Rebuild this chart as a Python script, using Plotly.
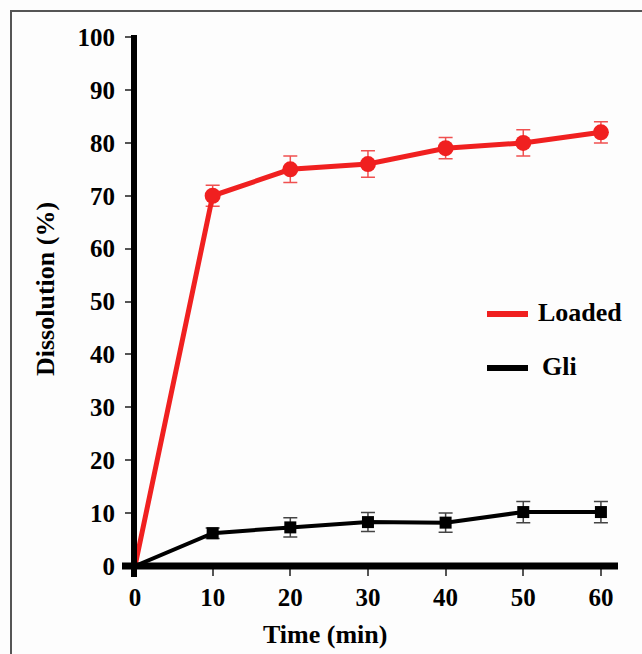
import plotly.graph_objects as go

time_min = [0, 10, 20, 30, 40, 50, 60]
loaded = [0, 70, 75, 76, 79, 80, 82]
loaded_err = [0, 2, 2.5, 2.5, 2, 2.5, 2]
gli = [0, 6.2, 7.3, 8.3, 8.2, 10.2, 10.2]
gli_err = [0, 1, 1.8, 1.8, 1.8, 2, 2]
x_ticks = [0, 10, 20, 30, 40, 50, 60]
y_ticks = [0, 10, 20, 30, 40, 50, 60, 70, 80, 90, 100]

W, H = 642, 654
L, R, T, B = 134, 618, 35, 566
FONT = "Liberation Serif"


def px(xp):
    return (xp - L) / (R - L)


def py(yp):
    return (B - yp) / (B - T)


red_sizes = [0] + [16] * (len(time_min) - 1)
blk_sizes = [0] + [12] * (len(time_min) - 1)

fig = go.Figure()
fig.add_trace(go.Scatter(
    x=time_min, y=loaded, mode="lines+markers",
    line=dict(color="#f02020", width=5),
    marker=dict(symbol="circle", size=red_sizes, color="#f02020", opacity=1,
                line=dict(width=0)),
    error_y=dict(type="data", array=loaded_err, visible=True,
                 color="#f05050", thickness=1.5, width=7),
    showlegend=False, cliponaxis=False))
fig.add_trace(go.Scatter(
    x=time_min, y=gli, mode="lines+markers",
    line=dict(color="black", width=4),
    marker=dict(symbol="square", size=blk_sizes, color="black", opacity=1,
                line=dict(width=0)),
    error_y=dict(type="data", array=gli_err, visible=True,
                 color="#444444", thickness=1.5, width=7),
    showlegend=False, cliponaxis=False))

shapes = [
    dict(type="rect", xref="paper", yref="paper",
         x0=px(11), x1=px(700), y0=py(700), y1=py(11),
         line=dict(color="#555555", width=2), layer="below"),
    dict(type="line", xref="paper", yref="paper",
         x0=px(134), x1=px(134), y0=py(577), y1=py(35),
         line=dict(color="black", width=6)),
    dict(type="line", xref="paper", yref="paper",
         x0=px(122), x1=px(618), y0=py(566), y1=py(566),
         line=dict(color="black", width=7)),
    dict(type="line", xref="paper", yref="paper",
         x0=px(487), x1=px(528), y0=py(314), y1=py(314),
         line=dict(color="#f02020", width=6)),
    dict(type="line", xref="paper", yref="paper",
         x0=px(487), x1=px(528), y0=py(368), y1=py(368),
         line=dict(color="black", width=6)),
]

annotations = [
    dict(text="<b>Loaded</b>", xref="paper", yref="paper", x=px(536), y=py(312),
         xanchor="left", yanchor="middle", showarrow=False,
         font=dict(family=FONT, size=26, color="black")),
    dict(text="<b>Gli</b>", xref="paper", yref="paper", x=px(540), y=py(366),
         xanchor="left", yanchor="middle", showarrow=False,
         font=dict(family=FONT, size=26, color="black")),
    dict(text="<b>Time (min)</b>", xref="paper", yref="paper", x=px(325), y=py(634),
         xanchor="center", yanchor="middle", showarrow=False,
         font=dict(family=FONT, size=26, color="black")),
    dict(text="<b>Dissolution (%)</b>", xref="paper", yref="paper", x=px(45), y=py(289),
         xanchor="center", yanchor="middle", showarrow=False, textangle=-90,
         font=dict(family=FONT, size=26, color="black")),
]

fig.update_layout(
    width=W, height=H,
    margin=dict(l=L, r=W - R, t=T, b=H - B),
    paper_bgcolor="#fdfdfd", plot_bgcolor="#fdfdfd",
    shapes=shapes, annotations=annotations,
    xaxis=dict(range=[-0.13, 62.2], tickvals=x_ticks,
               ticktext=[f"<b>{v}</b>" for v in x_ticks],
               showgrid=False, zeroline=False, showline=False,
               ticks="outside", ticklen=9, tickwidth=1.5, tickcolor="#555555",
               tickfont=dict(family=FONT, size=25, color="black")),
    yaxis=dict(range=[0, 100.4], tickvals=y_ticks,
               ticktext=[f"<b>{v}</b>" for v in y_ticks],
               showgrid=False, zeroline=False, showline=False,
               ticks="outside", ticklen=8, tickwidth=1.5, tickcolor="#555555",
               ticklabelstandoff=5,
               tickfont=dict(family=FONT, size=25, color="black")),
)

fig.write_html("out.html")
